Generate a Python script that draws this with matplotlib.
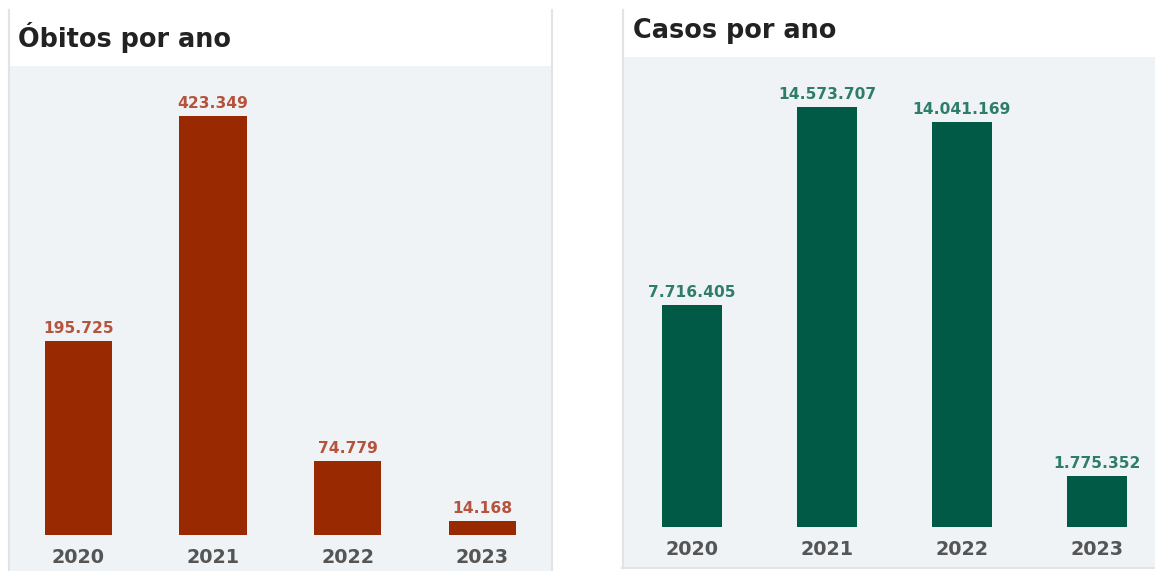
import matplotlib
matplotlib.use("Agg")
import matplotlib.pyplot as plt
from matplotlib.patches import Rectangle
from matplotlib.lines import Line2D

plt.rcParams["font.family"] = ["DejaVu Sans"]

years = ["2020", "2021", "2022", "2023"]
obitos = [195725, 423349, 74779, 14168]
casos = [7716405, 14573707, 14041169, 1775352]

def fmt(v):
    return f"{v:,}".replace(",", ".")

W, H = 1155, 571
fig = plt.figure(figsize=(W / 100, H / 100), dpi=100)
fig.patch.set_facecolor("white")
PX = 72 / 100  # points per pixel

def px_rect(x0, y0, x1, y1):
    # pixel coords (top-left origin) -> figure fraction
    return [x0 / W, 1 - y1 / H, (x1 - x0) / W, (y1 - y0) / H]

def add_bg(x0, y0, x1, y1, color):
    l, b, w, h = px_rect(x0, y0, x1, y1)
    fig.patches.append(Rectangle((l, b), w, h, transform=fig.transFigure,
                                 facecolor=color, edgecolor="none", zorder=-2))

def add_line(x0, y0, x1, y1, color="#e3e3e3", lw=1.5):
    fig.add_artist(Line2D([x0 / W, x1 / W], [1 - y0 / H, 1 - y1 / H],
                          transform=fig.transFigure, color=color, lw=lw, zorder=-1))

BG = "#f0f3f6"
# left card
add_bg(9, 66, 551, 571, BG)
add_line(8.5, 10, 8.5, 571)
add_line(552, 10, 552, 571)
# right card
add_bg(623, 57, 1155, 567, BG)
add_line(622.5, 10, 622.5, 568)
add_line(622, 568, 1155, 568)

fig.text(18 / W, 1 - 47 / H, "Óbitos por ano", fontsize=18.4, fontweight="bold",
         color="#222222", va="baseline", ha="left")
fig.text(633 / W, 1 - 38 / H, "Casos por ano", fontsize=18.4, fontweight="bold",
         color="#222222", va="baseline", ha="left")

def panel(rect, xlim, ymax, values, bar_color, label_color, width):
    ax = fig.add_axes(px_rect(*rect))
    ax.set_zorder(3)
    ax.set_facecolor("none")
    x = list(range(len(years)))
    bars = ax.bar(x, values, width=width, color=bar_color, zorder=2)
    for b, v in zip(bars, values):
        ax.annotate(fmt(v), (b.get_x() + b.get_width() / 2, b.get_height()),
                    xytext=(0, 8 * PX), textcoords="offset points", ha="center",
                    va="baseline", fontsize=11.2, fontweight="bold", color=label_color)
    for xi, yr in zip(x, years):
        ax.annotate(yr, (xi, 0), xycoords=("data", "axes fraction"),
                    xytext=(0, -28 * PX), textcoords="offset points", ha="center",
                    va="baseline", fontsize=13.8, fontweight="bold", color="#555555",
                    annotation_clip=False)
    ax.set_xlim(*xlim)
    ax.set_ylim(0, ymax)
    ax.set_xticks([])
    ax.set_yticks([])
    for s in ax.spines.values():
        s.set_visible(False)
    return ax

panel((9, 66, 551, 535), (-0.516, 3.509), 473870, obitos, "#992900", "#b5533c", 0.5)
panel((623, 57, 1155, 527), (-0.511, 3.43), 16308672, casos, "#005a46", "#2e7d6b", 0.444)

fig.savefig("out.png", dpi=100, facecolor="white")
